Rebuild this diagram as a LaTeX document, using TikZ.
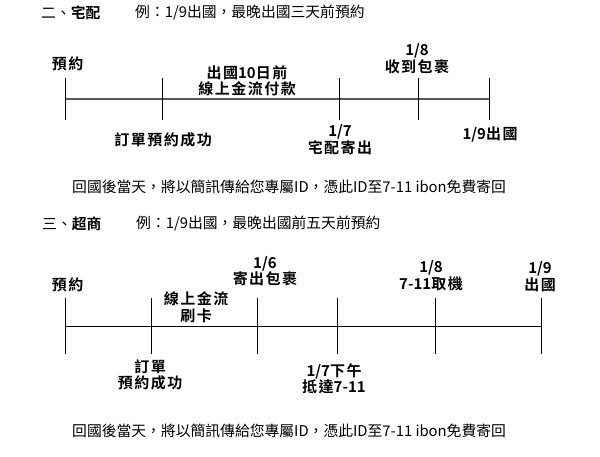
\documentclass[tikz,border=0pt]{standalone}
\usepackage{fontspec}
\usetikzlibrary{arrows,positioning}
\newfontfamily\lblfont[LetterSpace=10]{Noto Sans CJK TC Bold}
\newfontfamily\headfont{Noto Sans CJK TC Bold}
\newfontfamily\txtfont{Noto Sans CJK TC}
\newcommand\dig[1]{{\headfont #1}}
\definecolor{lineg}{HTML}{585858}

\begin{document}
\begin{tikzpicture}[x=1pt, y=-1pt, >=latex,
	lbl/.style={font=\lblfont\fontsize{15}{16.5}\selectfont, align=center, inner sep=0pt},
	txt/.style={font=\txtfont\fontsize{14.8}{17}\selectfont, anchor=west, inner sep=0pt},
	tickline/.style={line width=1pt},
	mainline/.style={line width=2pt, color=lineg}]
	\path[fill=white, use as bounding box] (0,0) rectangle (600,457);
	% heading of part two
	\node[txt] (h2) at (41,13) {二、{\headfont 宅配}};
	\node[txt] (ex2) at (135,13) {例：1/9出國，最晚出國三天前預約};
	\coordinate (a0) at (65.7,99);
	\coordinate (a1) at (162.2,99);
	\coordinate (a2) at (339.7,99);
	\coordinate (a3) at (418.7,99);
	\coordinate (a4) at (489.8,99);
	\draw[mainline] (a0) -- (a4);
	\foreach \i in {0,...,4}
		\draw[tickline] ([yshift=21pt]a\i) -- ([yshift=-21pt]a\i);
	\node[lbl] (a0up) at (67.5,64)   {預約};
	\node[lbl] (a1up) at (247,81)    {出國\dig{10}日前\\線上金流付款};
	\node[lbl] (a3up) at (417,58.5)  {\dig{1/8}\\收到包裹};
	\node[lbl] (a1dn) at (163,140)   {訂單預約成功};
	\node[lbl] (a2dn) at (340,139.5) {\dig{1/7}\\宅配寄出};
	\node[lbl] (a4dn) at (490,134.5) {\dig{1/9}出國};
	\node[txt] (back2) at (72,187) {回國後當天，將以簡訊傳給您專屬ID，憑此ID至7-11 ibon免費寄回};
	% heading of part three
	\node[txt] (h3) at (42,224) {三、{\headfont 超商}};
	\node[txt] (ex3) at (136,224) {例：1/9出國，最晚出國前五天前預約};
	\coordinate (b0) at (65.7,326);
	\coordinate (b1) at (151.9,326);
	\coordinate (b2) at (257.6,326);
	\coordinate (b3) at (337,326);
	\coordinate (b4) at (435,326);
	\coordinate (b5) at (541.3,326);
	\draw[line width=1pt] (b0) -- (b5);
	\foreach \i in {0,...,5}
		\draw[tickline] ([yshift=28pt]b\i) -- ([yshift=-28pt]b\i);
	\node[lbl] (b0up) at (67.5,285)  {預約};
	\node[lbl] (b1up) at (196,307)   {線上金流\\刷卡};
	\node[lbl] (b2up) at (265,271)   {\dig{1/6}\\寄出包裹};
	\node[lbl] (b4up) at (431,275.5) {\dig{1/8}\\\dig{7-11}取機};
	\node[lbl] (b5up) at (540,276.5) {\dig{1/9}\\出國};
	\node[lbl] (b1dn) at (150,375)   {訂單\\預約成功};
	\node[lbl] (b3dn) at (334,379)   {\dig{1/7}下午\\抵達\dig{7-11}};
	\node[txt] (back3) at (72,431) {回國後當天，將以簡訊傳給您專屬ID，憑此ID至7-11 ibon免費寄回};
\end{tikzpicture}
\end{document}
